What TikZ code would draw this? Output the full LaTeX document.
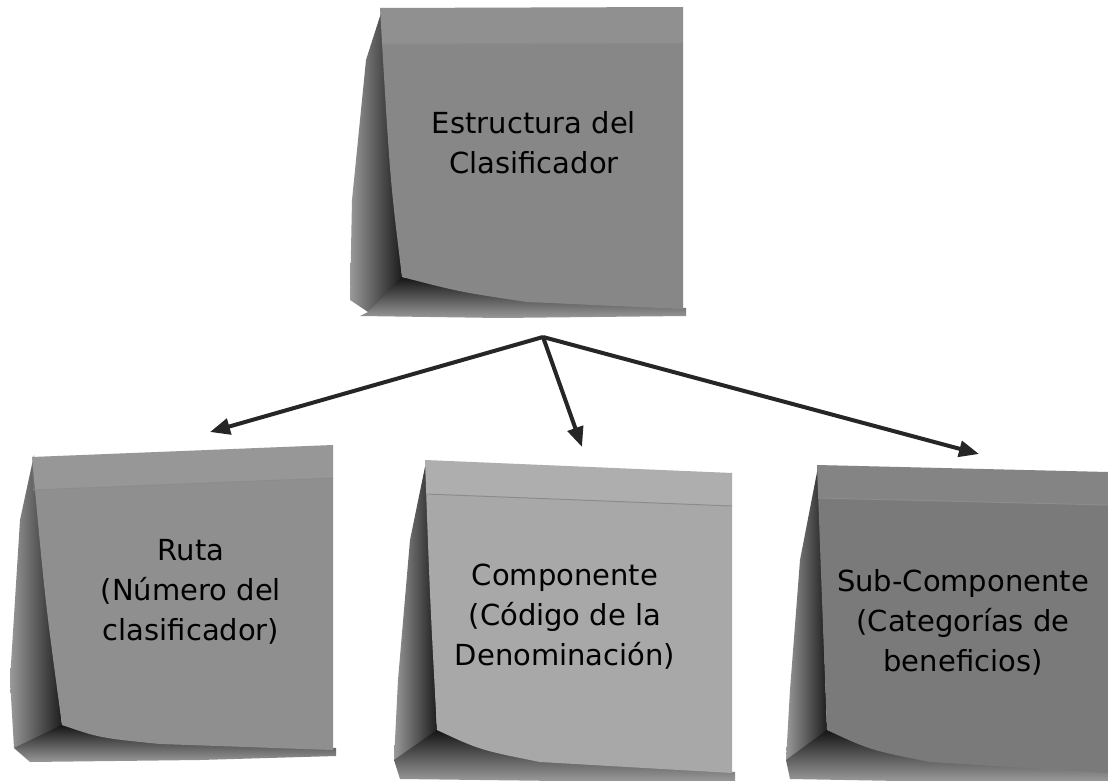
\documentclass[tikz,border=0pt]{standalone}
\usepackage{fontspec}
\setmainfont{DejaVu Sans}
\usetikzlibrary{arrows.meta}

\tikzset{
  notetext/.style={align=center, font=\fontsize{14.5}{20}\selectfont, text=black},
  notelink/.style={line width=2pt, draw=black!85, -{Triangle[length=10pt,width=8pt]}},
  sideshadow/.style={left color=black!40, right color=black!92},
  baseshadow/.style={top color=black!92, bottom color=black!40},
  noteband/.style={fill=white, opacity=0.08},
  bandline/.style={draw=black!45, line width=0.5pt},
}

\begin{document}
\begin{tikzpicture}[x=0.5pt, y=-0.5pt]
    \useasboundingbox[fill=white] (0,0) rectangle (1108,781);
    % top note: Estructura del Clasificador
    \shade[sideshadow] (382,10) -- (366,60) -- (352,200) -- (350,300) -- (368,312) -- (405,290) -- (402,277) -- cycle;
    \shade[baseshadow] (368,312) -- (402,277) -- (527,300) -- (686,308) -- (686,316) -- (500,318) -- (360,316) -- cycle;
    \fill[black!47] (380,8) -- (683,7) -- (683,309) -- (527,302) .. controls (460,292) .. (402,277) .. controls (390,180) .. (380,8) -- cycle;
    \fill[noteband] (380,8) -- (683,7) -- (683,43) -- (382,44) -- cycle;
    \draw[bandline] (382,44) -- (683,43);
    \node[notetext] (top) at (534,143) {Estructura del\\Clasificador};
    % bottom left note: Ruta
    \shade[sideshadow] (34,455) -- (20,520) -- (10,680) -- (14,748) -- (40,752) -- (66,738) -- (62,725) -- cycle;
    \shade[baseshadow] (14,748) -- (62,725) -- (160,743) -- (336,748) -- (336,756) -- (200,760) -- (30,762) -- cycle;
    \fill[black!44] (32,457) -- (333,445) -- (333,750) -- (160,744) .. controls (100,738) .. (62,725) .. controls (45,600) .. (32,457) -- cycle;
    \fill[noteband] (32,457) -- (333,445) -- (333,478) -- (33,490) -- cycle;
    \draw[bandline] (33,490) -- (333,478);
    \node[notetext] (ruta) at (191,592) {Ruta\\(Número del\\clasificador)};
    % bottom middle note: Componente
    \shade[sideshadow] (426,462) -- (410,540) -- (398,680) -- (394,760) -- (420,770) -- (440,742) -- (437,730) -- cycle;
    \shade[baseshadow] (394,760) -- (437,730) -- (540,760) -- (735,772) -- (735,781) -- (560,781) -- (400,779) -- cycle;
    \fill[black!34] (425,460) -- (732,473) -- (732,773) -- (540,762) .. controls (480,750) .. (437,730) .. controls (430,600) .. (425,460) -- cycle;
    \fill[noteband] (425,460) -- (732,473) -- (732,506) -- (426,494) -- cycle;
    \draw[bandline] (426,494) -- (732,506);
    \node[notetext] (comp) at (565,617) {Componente\\(Código de la\\Denominación)};
    % bottom right note: Sub-Componente
    \shade[sideshadow] (818,467) -- (800,560) -- (790,690) -- (786,760) -- (810,772) -- (830,742) -- (827,730) -- cycle;
    \shade[baseshadow] (786,760) -- (827,730) -- (930,760) -- (1108,771) -- (1108,781) -- (900,781) -- (790,779) -- cycle;
    \fill[black!52] (817,465) -- (1108,472) -- (1108,773) -- (930,762) .. controls (870,750) .. (827,730) .. controls (822,600) .. (817,465) -- cycle;
    \fill[noteband] (817,465) -- (1108,472) -- (1108,505) -- (818,498) -- cycle;
    \draw[bandline] (818,498) -- (1108,505);
    \node[notetext] (sub) at (963,622) {Sub-Componente\\(Categorías de\\beneficios)};
    % arrows
    \coordinate (hub) at (543,337);
    \coordinate (rutatip) at (210,432);
    \coordinate (comptip) at (582,447);
    \coordinate (subtip) at (979,454);
    \draw[notelink] (hub) -- (rutatip);
    \draw[notelink] (hub) -- (comptip);
    \draw[notelink] (hub) -- (subtip);
\end{tikzpicture}
\end{document}
